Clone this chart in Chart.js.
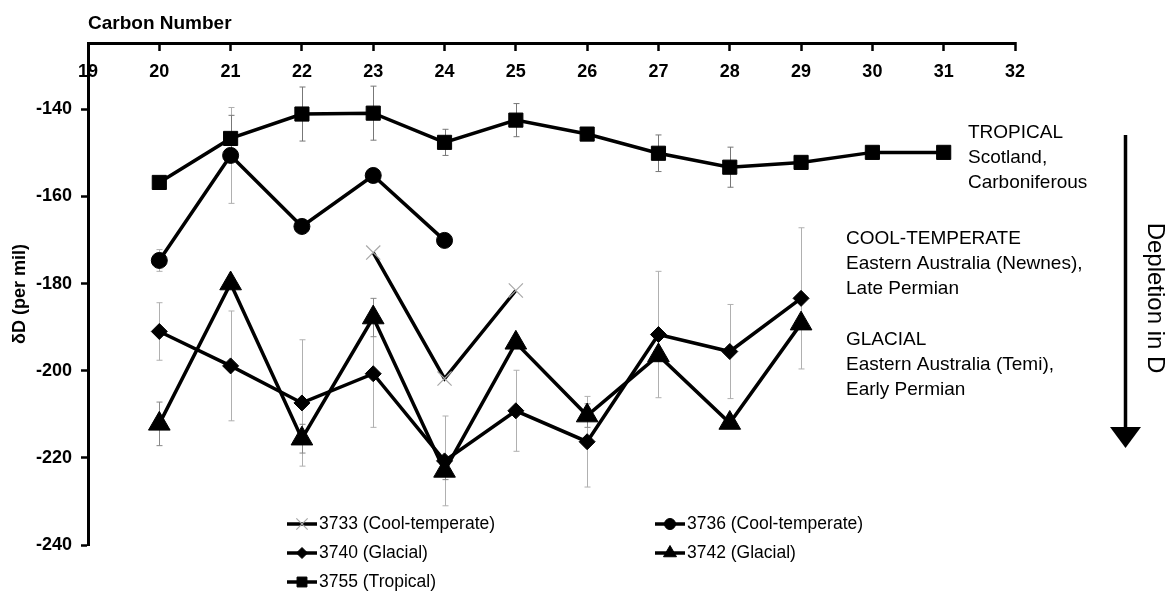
<!DOCTYPE html>
<html>
<head>
<meta charset="utf-8">
<script src="https://cdn.jsdelivr.net/npm/chart.js@4.4.0/dist/chart.umd.min.js"></script>
<style>
html, body { margin: 0; padding: 0; background: #fff; }
#wrap { width: 1167px; height: 595px; }
</style>
</head>
<body>
<div id="wrap"><canvas id="chart" width="1167" height="595"></canvas></div>
<script>
// carbon numbers on the x axis
const carbon = [20, 21, 22, 23, 24, 25, 26, 27, 28, 29, 30, 31];

// dD values (per mil)
const s3733 = [null, null, null, -172.9, -201.8, -181.6, null, null, null, null, null, null];
const s3736 = [-174.7, -150.6, -166.9, -155.2, -170.1, null, null, null, null, null, null, null];
const s3740 = [-191.0, -198.9, -207.4, -200.7, -220.7, -209.2, -216.3, -191.7, -195.6, -183.4, null, null];
const s3742 = [-212.2, -180.0, -215.6, -187.8, -223.0, -193.6, -210.3, -196.5, -212.0, -189.2, null, null];
const s3755 = [-156.8, -146.7, -141.1, -140.9, -147.6, -142.5, -145.7, -150.1, -153.3, -152.2, -149.9, -149.9];

// error bar half widths (null = none drawn)
const e3733 = [null, null, null, null, null, null, null, null, null, null, null, null];
const e3736 = [2.5, 11.0, null, null, null, null, null, null, null, null, null, null];
const e3740 = [6.6, 12.6, 14.5, 12.3, 10.3, 9.3, 10.4, 14.5, 10.8, 16.2, null, null];
const e3742 = [5.0, null, 3.3, 4.4, 2.0, null, 2.7, null, null, null, null, null];
const e3755 = [null, 5.3, 6.2, 6.2, 3.0, 3.8, null, 4.2, 4.6, null, null, null];

const seriesNames = ['3733 (Cool-temperate)', '3736 (Cool-temperate)', '3740 (Glacial)', '3742 (Glacial)', '3755 (Tropical)'];
const series = [s3733, s3736, s3740, s3742, s3755];
const errors = [e3733, e3736, e3740, e3742, e3755];

const xMin = 19, xMax = 32;
const yMin = -240, yMax = -124.8, yStep = 20;

const noteTropical = ['TROPICAL', 'Scotland,', 'Carboniferous'];
const noteCool = ['COOL-TEMPERATE', 'Eastern Australia (Newnes),', 'Late Permian'];
const noteGlacial = ['GLACIAL', 'Eastern Australia (Temi),', 'Early Permian'];
const arrowLabel = 'Depletion in D';

const FONT = "'Liberation Sans', Arial, sans-serif";

const styles = [
  { pointStyle: 'crossRot', radius: 10, pointColor: '#a8a8a8', pointBorder: 1.2, errColor: '#aaa', legendRadius: 8 },
  { pointStyle: 'circle', radius: 8, pointColor: '#000', pointBorder: 1, errColor: '#b0b0b0', legendRadius: 5.5 },
  { pointStyle: 'rectRot', radius: 8, pointColor: '#000', pointBorder: 1, errColor: '#b0b0b0', legendRadius: 5.5 },
  { pointStyle: 'triangle', radius: 12.5, pointColor: '#000', pointBorder: 1, errColor: '#888', legendRadius: 7.5 },
  { pointStyle: 'rect', radius: 10, pointColor: '#000', pointBorder: 1, errColor: '#777', legendRadius: 7 }
];

const datasets = series.map((vals, i) => ({
  label: seriesNames[i],
  data: carbon.map((c, j) => ({ x: c, y: vals[j] })),
  borderColor: '#000',
  borderWidth: 3.5,
  backgroundColor: styles[i].pointColor,
  pointStyle: styles[i].pointStyle,
  pointRadius: styles[i].radius,
  pointBackgroundColor: styles[i].pointColor,
  pointBorderColor: styles[i].pointColor,
  pointBorderWidth: styles[i].pointBorder,
  tension: 0,
  spanGaps: false
}));

// x tick labels sit below the top axis line, inside the plot
const xLabels = {
  id: 'xLabels',
  beforeDraw(chart) {
    const ctx = chart.ctx, xs = chart.scales.x;
    ctx.save();
    ctx.fillStyle = '#000';
    ctx.font = 'bold 18px ' + FONT;
    ctx.textAlign = 'center';
    ctx.textBaseline = 'middle';
    xs.ticks.forEach(t => {
      ctx.fillText(String(t.value), xs.getPixelForValue(t.value), chart.chartArea.top + 29);
    });
    ctx.restore();
  }
};

// gray error bars behind the lines
const errorBars = {
  id: 'errorBars',
  beforeDatasetsDraw(chart) {
    const ctx = chart.ctx, xs = chart.scales.x, ys = chart.scales.y;
    ctx.save();
    ctx.lineWidth = 1;
    series.forEach((vals, i) => {
      ctx.strokeStyle = styles[i].errColor;
      carbon.forEach((c, j) => {
        const v = vals[j], e = errors[i][j];
        if (v == null || e == null) return;
        const px = Math.round(xs.getPixelForValue(c)) + 0.5;
        const top = ys.getPixelForValue(v + e);
        const bot = ys.getPixelForValue(v - e);
        ctx.beginPath();
        ctx.moveTo(px, top); ctx.lineTo(px, bot);
        ctx.moveTo(px - 3, top); ctx.lineTo(px + 3, top);
        ctx.moveTo(px - 3, bot); ctx.lineTo(px + 3, bot);
        ctx.stroke();
      });
    });
    ctx.restore();
  }
};

// two column legend inside the bottom of the plot
const legendBox = {
  id: 'legendBox',
  afterDraw(chart) {
    const ctx = chart.ctx;
    const colX = [287, 655];
    const rowY = [524, 553, 582];
    ctx.save();
    chart.data.datasets.forEach((ds, i) => {
      const x = colX[i % 2], y = rowY[Math.floor(i / 2)];
      ctx.strokeStyle = '#000';
      ctx.lineWidth = 3.5;
      ctx.beginPath();
      ctx.moveTo(x, y); ctx.lineTo(x + 30, y);
      ctx.stroke();
      ctx.fillStyle = styles[i].pointColor;
      ctx.strokeStyle = styles[i].pointColor;
      ctx.lineWidth = styles[i].pointBorder;
      Chart.helpers.drawPoint(ctx, {
        pointStyle: styles[i].pointStyle,
        radius: styles[i].legendRadius,
        rotation: 0,
        borderWidth: styles[i].pointBorder
      }, x + 15, y);
      ctx.fillStyle = '#000';
      ctx.font = '17.5px ' + FONT;
      ctx.textAlign = 'left';
      ctx.textBaseline = 'middle';
      ctx.fillText(ds.label, x + 32, y);
    });
    ctx.restore();
  }
};

// climate notes and depletion arrow on the right
const sideNotes = {
  id: 'sideNotes',
  afterDraw(chart) {
    const ctx = chart.ctx;
    ctx.save();
    ctx.fillStyle = '#000';
    ctx.font = '19px ' + FONT;
    ctx.textAlign = 'left';
    ctx.textBaseline = 'middle';
    const blocks = [[noteTropical, 968, 133], [noteCool, 846, 239], [noteGlacial, 846, 340]];
    blocks.forEach(([lines, x, y]) => {
      lines.forEach((t, k) => ctx.fillText(t, x, y + k * 25));
    });

    ctx.strokeStyle = '#000';
    ctx.lineWidth = 3.5;
    ctx.beginPath();
    ctx.moveTo(1125.5, 135); ctx.lineTo(1125.5, 430);
    ctx.stroke();
    ctx.beginPath();
    ctx.moveTo(1110, 427); ctx.lineTo(1141, 427); ctx.lineTo(1125.5, 448);
    ctx.closePath();
    ctx.fill();

    ctx.translate(1155, 298);
    ctx.rotate(Math.PI / 2);
    ctx.font = '24px ' + FONT;
    ctx.textAlign = 'center';
    ctx.fillText(arrowLabel, 0, 0);
    ctx.restore();
  }
};

new Chart(document.getElementById('chart'), {
  type: 'line',
  data: { datasets: datasets },
  options: {
    responsive: false,
    animation: false,
    devicePixelRatio: 1,
    layout: { padding: { left: 0, top: 0, right: 152, bottom: 50 } },
    plugins: {
      legend: { display: false },
      tooltip: { enabled: false }
    },
    scales: {
      x: {
        type: 'linear',
        position: 'top',
        min: xMin,
        max: xMax,
        afterFit(scale) { scale.height = 43; },
        border: { display: true, color: '#000', width: 3 },
        grid: { drawOnChartArea: false, drawTicks: true, tickLength: -8, tickColor: '#000', tickWidth: 2.5 },
        ticks: {
          stepSize: 1,
          autoSkip: false,
          maxRotation: 0,
          color: 'rgba(0,0,0,0)',
          font: { family: FONT, size: 18, weight: 'bold' }
        },
        title: {
          display: true,
          text: 'Carbon Number',
          align: 'start',
          color: '#000',
          font: { family: FONT, size: 19, weight: 'bold' },
          padding: { top: 12, bottom: 0 }
        }
      },
      y: {
        type: 'linear',
        min: yMin,
        max: yMax,
        afterFit(scale) { scale.width = 88; },
        border: { display: true, color: '#000', width: 3 },
        grid: { drawOnChartArea: false, drawTicks: true, tickLength: 7, tickColor: '#000', tickWidth: 2.5 },
        ticks: {
          stepSize: yStep,
          includeBounds: false,
          padding: 9,
          color: '#000',
          font: { family: FONT, size: 18, weight: 'bold' }
        },
        title: {
          display: true,
          text: 'δD (per mil)',
          color: '#000',
          font: { family: FONT, size: 18, weight: 'bold' },
          padding: { top: 9, bottom: 0 }
        }
      }
    }
  },
  plugins: [xLabels, errorBars, legendBox, sideNotes]
});
</script>
</body>
</html>
